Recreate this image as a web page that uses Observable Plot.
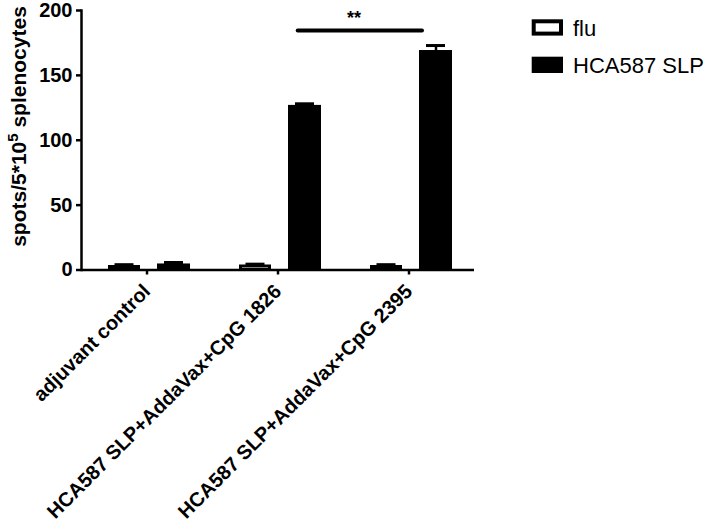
<!DOCTYPE html>
<html><head><meta charset="utf-8">
<script src="https://cdn.jsdelivr.net/npm/d3@7"></script>
<script src="https://cdn.jsdelivr.net/npm/@observablehq/plot@0.6"></script>
<style>body{margin:0;background:#fff} #chart{position:relative;width:706px;height:522px}</style>
</head><body><div id="chart"></div>
<script>
const groups = ["adjuvant control", "HCA587 SLP+AddaVax+CpG 1826", "HCA587 SLP+AddaVax+CpG 2395"];
const series = ["flu", "HCA587 SLP"];
const seriesFill = ["white", "black"];
const fluValues = [2.3, 2.7, 2.3];
const fluErrors = [1.8, 1.8, 1.8];
const hcaValues = [3.5, 125.7, 168];
const hcaErrors = [2.3, 2.4, 5];
const yTicks = [0, 50, 100, 150, 200];
const yLabelParts = ["spots/5*10", "5", " splenocytes"];
const sigFrom = [groups[1]];
const sigTo = [groups[2]];
const sigY = [184.5];
const sigLabel = ["**"];

const fluData = groups.map((g, i) => ({group: g, value: fluValues[i], err: fluErrors[i]}));
const hcaData = groups.map((g, i) => ({group: g, value: hcaValues[i], err: hcaErrors[i]}));
const sigData = sigLabel.map((l, i) => ({from: sigFrom[i], to: sigTo[i], y: sigY[i], label: l}));

const font = "'Liberation Sans', Arial, sans-serif";

const chart = Plot.plot({
  width: 706, height: 522,
  marginLeft: 81, marginRight: 232, marginTop: 10, marginBottom: 252.5,
  style: {fontFamily: font, fontSize: "20px", fontWeight: "bold", background: "white", color: "black"},
  x: {domain: groups, padding: 0},
  y: {domain: [0, 200]},
  marks: [
    Plot.barY(fluData, {x: "group", y: "value", fill: seriesFill[0], stroke: "black", strokeWidth: 3, insetLeft: 28.5, insetRight: 73.5}),
    Plot.barY(hcaData, {x: "group", y: "value", fill: seriesFill[1], stroke: "black", strokeWidth: 3, insetLeft: 77.5, insetRight: 23.5}),
    Plot.ruleX(fluData, {x: "group", y1: "value", y2: d => d.value + d.err, dx: -22.5, strokeWidth: 2.5}),
    Plot.ruleX(hcaData, {x: "group", y1: "value", y2: d => d.value + d.err, dx: 27, strokeWidth: 2.5}),
    Plot.tickY(fluData, {x: "group", y: d => d.value + d.err, insetLeft: 33.5, insetRight: 78.5, strokeWidth: 3}),
    Plot.tickY(hcaData, {x: "group", y: d => d.value + d.err, insetLeft: 83, insetRight: 29, strokeWidth: 3}),
    Plot.ruleY([0], {strokeWidth: 2.5}),
    Plot.frame({anchor: "left", strokeWidth: 2.5}),
    Plot.axisY({ticks: yTicks, tickSize: 5, tickPadding: 4, strokeWidth: 2.5, label: null}),
    Plot.axisX({tickRotate: -45, tickSize: 5, tickPadding: 13, strokeWidth: 2.5, label: null}),
    Plot.ruleY(sigData, {x1: "from", x2: "to", y: "y", strokeWidth: 4, strokeLinecap: "round", insetLeft: 85.7, insetRight: 52}),
    Plot.text(sigData, {x: "from", y: "y", text: "label", dx: 76, dy: -7, lineAnchor: "bottom", fontSize: 18, fontWeight: "bold"})
  ]
});
document.getElementById("chart").appendChild(chart);

const svg = d3.select(chart);
// y-axis title with superscript
const t = svg.append("text")
  .attr("transform", "translate(26,126.5) rotate(-90)")
  .attr("text-anchor", "middle")
  .attr("font-family", font).attr("font-size", 21).attr("font-weight", "bold").attr("fill", "black");
t.append("tspan").text(yLabelParts[0]);
t.append("tspan").attr("dy", -8).attr("font-size", 15).text(yLabelParts[1]);
t.append("tspan").attr("dy", 8).text(yLabelParts[2]);

// legend
const lg = svg.append("g").attr("font-family", font).attr("font-size", 22).attr("font-weight", "normal").attr("text-anchor", "start");
series.forEach((s, i) => {
  const y0 = i === 0 ? 19.3 : 56.7;
  lg.append("rect").attr("x", 533.7).attr("y", y0 + 2).attr("width", 27.3).attr("height", 12.3)
    .attr("fill", seriesFill[i]).attr("stroke", "black").attr("stroke-width", 4);
  lg.append("text").attr("x", 573).attr("y", y0 + 16.5).attr("fill", "black").text(s);
});
</script>
</body></html>
